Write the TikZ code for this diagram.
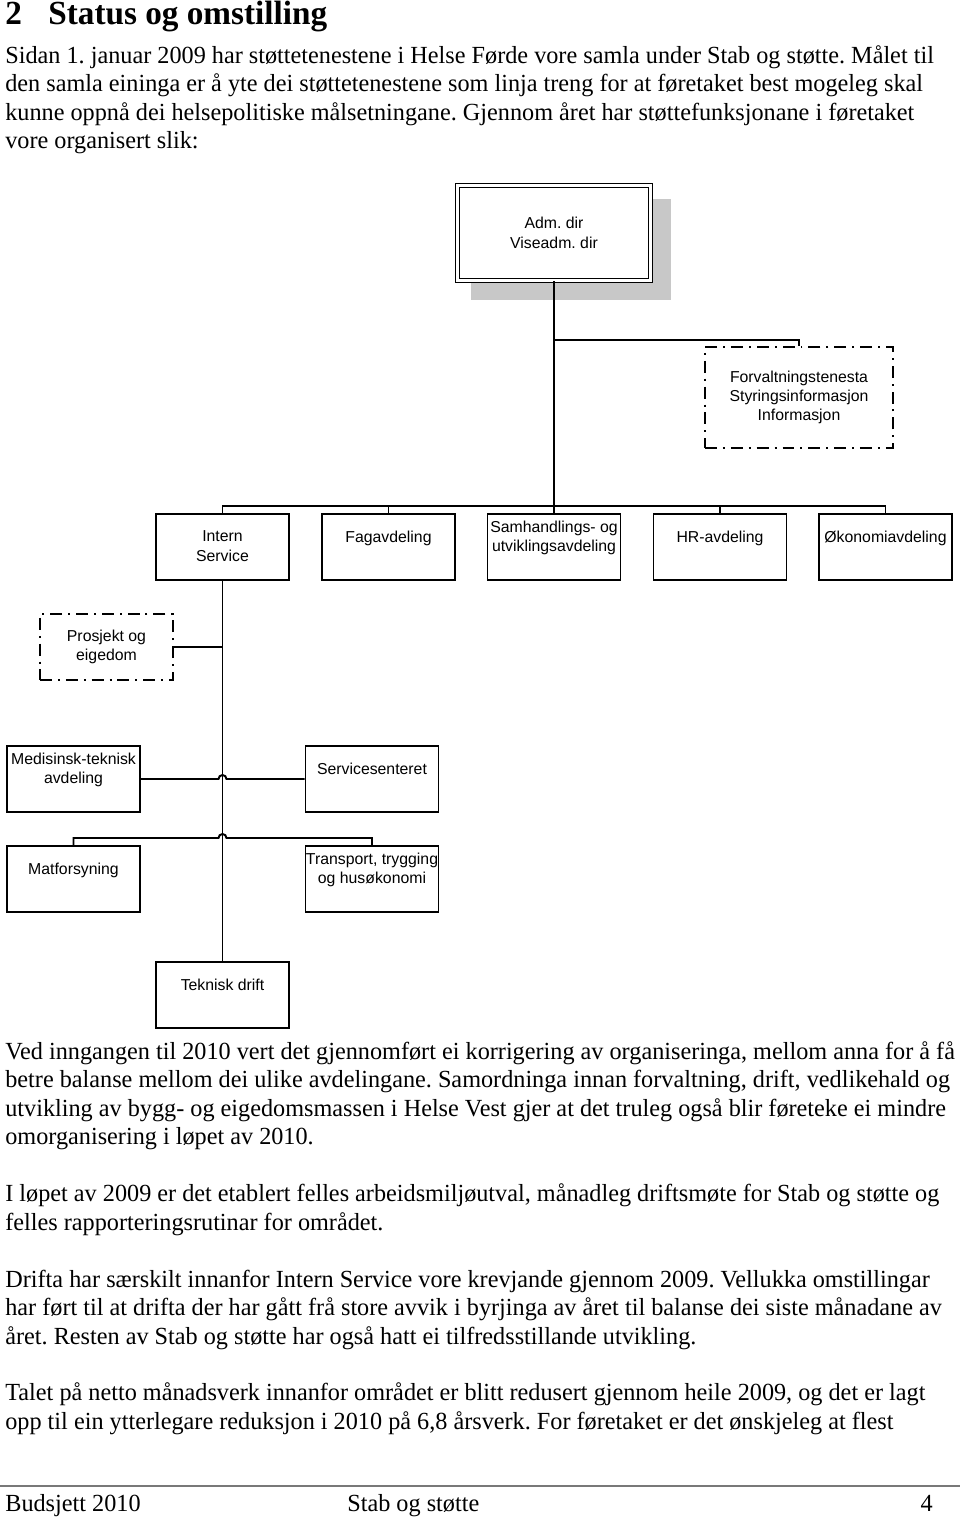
\documentclass[tikz,border=0pt]{standalone}
\usepackage{fontspec}
\setmainfont[FakeStretch=0.985]{Liberation Serif}
\newfontfamily\orgfont{Liberation Sans}
\usetikzlibrary{calc,backgrounds}
\frenchspacing

\definecolor{shadowgray}{RGB}{200,200,200}
\definecolor{footgray}{RGB}{120,120,120}

\tikzset{
    unit/.style={draw, line width=1.1pt, fill=white, minimum width=2.66cm, minimum height=1.32cm, inner sep=0pt,
                 align=center, font=\orgfont\fontsize{9}{11}\selectfont},
    staff/.style={unit, dash pattern=on 6.8pt off 3.4pt on 1.1pt off 3.4pt},
    boxtext/.style={anchor=north, align=center, inner sep=0pt, font=\orgfont\fontsize{9}{11}\selectfont},
    high/.style={label={[boxtext, yshift=-0.15cm]north:#1}},
    low/.style={label={[boxtext, yshift=-0.35cm]north:#1}},
    wire/.style={line width=1.1pt},
    para/.style={anchor=base west, inner sep=0pt, font=\fontsize{14}{17}\selectfont}
}

\begin{document}
\begin{tikzpicture}[x=0.02cm, y=-0.02cm]
    \useasboundingbox (0,0) rectangle (960,1517);

    % heading
    \node [para, font=\bfseries\fontsize{19.2}{22}\selectfont] (secnum)   at (5,25)  {2};
    \node [para, font=\bfseries\fontsize{19.2}{22}\selectfont] (sectitle) at (48,25) {Status og omstilling};

    % running text
    \foreach \yy/\txt [count=\i] in {
        63.5/{Sidan 1. januar 2009 har støttetenestene i Helse Førde vore samla under Stab og støtte. Målet til},
        92/{den samla eininga er å yte dei støttetenestene som linja treng for at føretaket best mogeleg skal},
        120.5/{kunne oppnå dei helsepolitiske målsetningane. Gjennom året har støttefunksjonane i føretaket},
        149/{vore organisert slik:},
        1059/{Ved inngangen til 2010 vert det gjennomført ei korrigering av organiseringa, mellom anna for å få},
        1087.5/{betre balanse mellom dei ulike avdelingane. Samordninga innan forvaltning, drift, vedlikehald og},
        1116/{utvikling av bygg- og eigedomsmassen i Helse Vest gjer at det truleg også blir føreteke ei mindre},
        1144.5/{omorganisering i løpet av 2010.},
        1201.5/{I løpet av 2009 er det etablert felles arbeidsmiljøutval, månadleg driftsmøte for Stab og støtte og},
        1230/{felles rapporteringsrutinar for området.},
        1287/{Drifta har særskilt innanfor Intern Service vore krevjande gjennom 2009. Vellukka omstillingar},
        1315.5/{har ført til at drifta der har gått frå store avvik i byrjinga av året til balanse dei siste månadane av},
        1344/{året. Resten av Stab og støtte har også hatt ei tilfredsstillande utvikling.},
        1400.5/{Talet på netto månadsverk innanfor området er blitt redusert gjennom heile 2009, og det er lagt},
        1429/{opp til ein ytterlegare reduksjon i 2010 på 6,8 årsverk. For føretaket er det ønskjeleg at flest}}
        \node [para] (line\i) at (5,\yy) {\txt};

    % org chart
    \node [draw, double, line width=0.7pt, double distance=1.4pt, fill=white, minimum width=3.86cm, minimum height=1.9cm,
           align=center, font=\orgfont\fontsize{9}{11}\selectfont] (adm) at (554,233) {Adm. dir\\Viseadm. dir};
    \begin{scope}[on background layer]
        \fill [shadowgray] ($(adm.north west)+(14,14)$) rectangle ($(adm.south east)+(20,19)$);
    \end{scope}
    \node [staff, minimum width=3.76cm, minimum height=2.02cm] (forv) at (799,397.5)
          {Forvaltningstenesta\\Styringsinformasjon\\Informasjon};

    \node [unit, low={Intern\\Service}]                   (intern) at (222.5,547) {};
    \node [unit, low={Fagavdeling}]                       (fag)    at (388.5,547) {};
    \node [unit, high={Samhandlings- og\\utviklingsavdeling}] (samh) at (554,547) {};
    \node [unit, low={HR-avdeling}]                       (hr)     at (720,547)   {};
    \node [unit, low={Økonomiavdeling}]                   (okon)   at (885.5,547) {};

    \node [staff] (prosj) at (106.5,647) {Prosjekt og\\eigedom};

    \node [unit, high={Medisinsk-teknisk\\avdeling}]      (med)    at (73.5,779)  {};
    \node [unit, low={Servicesenteret}]                   (serv)   at (372,779)   {};
    \node [unit, low={Matforsyning}]                      (mat)    at (73.5,879)  {};
    \node [unit, high={Transport, trygging\\og husøkonomi}] (trans) at (372,879)  {};
    \node [unit, low={Teknisk drift}]                     (tek)    at (222.5,995) {};

    \coordinate (split) at (554,340);
    \coordinate (bus)   at (554,506);
    \coordinate (mtbar) at (222.5,838);

    \draw [wire] (adm.south) -- (bus);
    \draw [wire] (split) -| (forv.north);
    \draw [wire] (intern.north) -- (intern.north |- bus) -- (okon.north |- bus) -- (okon.north);
    \foreach \n in {fag,samh,hr}
        \draw [wire] (\n.north) -- (\n.north |- bus);
    \draw [wire] (intern.south) -- (tek.north);
    \draw [wire] (prosj.east) -- (prosj.east -| intern.south);
    \draw [wire] (med.east) -- ($(med.east -| intern.south)+(-4,0)$) arc (180:360:4) -- (serv.west);
    \draw [wire] (mat.north) -- (mat.north |- mtbar) -- ($(mtbar)+(-4,0)$) arc (180:360:4)
                 -- (trans.north |- mtbar) -- (trans.north);

    % footer
    \draw [footgray, line width=1.2pt] (0,1486) -- (960,1486);
    \node [para] (foot1) at (5,1511)   {Budsjett 2010};
    \node [para] (foot2) at (347,1511) {Stab og støtte};
    \node [para, anchor=base east] (foot3) at (933,1511) {4};
\end{tikzpicture}
\end{document}
